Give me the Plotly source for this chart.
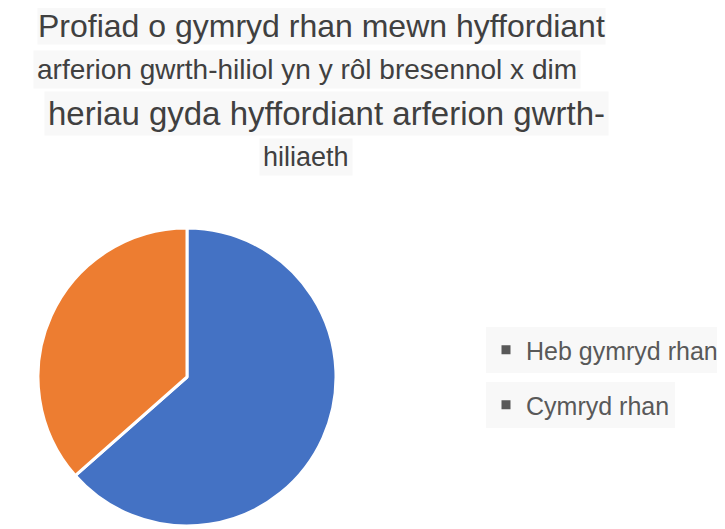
import plotly.graph_objects as go

labels = ['Heb gymryd rhan', 'Cymryd rhan']
values = [63.5, 36.5]
slice_colors = ['#4472C4', '#ED7D31']

title_lines = [
    'Profiad o gymryd rhan mewn hyffordiant',
    'arferion gwrth-hiliol yn y rôl bresennol x dim',
    'heriau gyda hyffordiant arferion gwrth-',
    'hiliaeth',
]

# the page body has an 8px margin, so size the figure to fit the window
OFF = 8
W, H = 725 - OFF, 529 - OFF
FONT = 'Liberation Sans, Arial, sans-serif'
TEXT = '#404040'


def px(x):
    return (x - OFF) / W


def py(y):
    return 1 - (y - OFF) / H


fig = go.Figure()

fig.add_trace(go.Pie(
    labels=labels,
    values=values,
    sort=False,
    direction='clockwise',
    rotation=0,
    marker=dict(colors=slice_colors, line=dict(color='white', width=3)),
    textinfo='none',
    showlegend=False,
    domain=dict(x=[px(38), px(336)], y=[py(526), py(228)]),
))

# legend entries use grey square keys, like the original
legend_names = ['legend', 'legend2']
for name, lg in zip(labels, legend_names):
    fig.add_trace(go.Scatter(
        x=[None], y=[None], mode='markers', name=name, legend=lg,
        marker=dict(symbol='square', size=9, color='#595959'),
        hoverinfo='skip',
    ))

leg_style = dict(
    bgcolor='#f8f8f8',
    font=dict(family=FONT, size=25, color='#595959'),
    xanchor='left', yanchor='middle', itemwidth=30,
)

# title lines, each on its own pale box
line_pos = [(321, 26, 32, 0), (307, 70, 28, 3), (326, 114, 33, 3), (306, 157, 27, 3)]
annotations = []
for txt, (cx, cy, sz, pad) in zip(title_lines, line_pos):
    annotations.append(dict(
        text=txt, xref='paper', yref='paper',
        x=px(cx), y=py(cy), xanchor='center', yanchor='middle',
        showarrow=False, bgcolor='#f8f8f8', borderpad=pad,
        font=dict(family=FONT, size=sz, color=TEXT),
    ))

fig.update_layout(
    width=W, height=H,
    margin=dict(l=0, r=0, t=0, b=0),
    paper_bgcolor='white',
    plot_bgcolor='white',
    xaxis=dict(visible=False),
    yaxis=dict(visible=False),
    annotations=annotations,
    legend=dict(x=px(486), y=py(350), **leg_style),
    legend2=dict(x=px(486), y=py(405), **leg_style),
)

fig.write_html('out.html')
